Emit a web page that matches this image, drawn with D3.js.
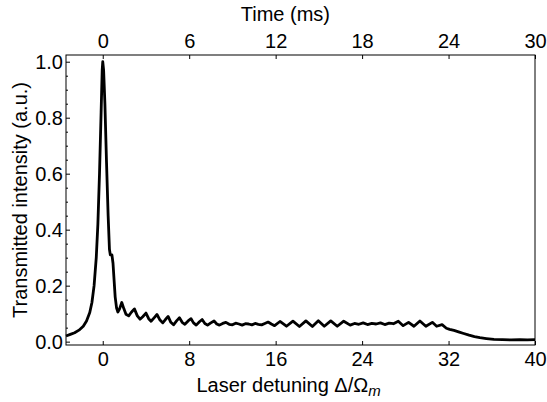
<!DOCTYPE html>
<html>
<head>
<meta charset="utf-8">
<script src="https://cdn.jsdelivr.net/npm/d3@7"></script>
<style>
  body { margin: 0; background: #fff; }
  svg text { font-family: "Liberation Sans", Arial, sans-serif; fill: #000; }
</style>
</head>
<body>
<svg id="chart"></svg>
<script>
// detuning (units of Omega_m) and transmitted intensity
const detuning = [
  -3.4, -3.0, -2.6, -2.2, -1.8, -1.5, -1.2, -1.0, -0.8, -0.6, -0.45, -0.3, -0.15, -0.05, 0.0,
  0.08, 0.2, 0.35, 0.5, 0.62, 0.7, 0.85, 0.95, 1.05, 1.15, 1.28, 1.4, 1.55, 1.76, 1.95,
  2.15, 2.4, 2.65, 2.93, 3.2, 3.45, 3.7, 4.0, 4.25, 4.47, 4.75, 5.02, 5.3, 5.55, 5.8,
  6.05, 6.3, 6.55, 6.85, 7.1, 7.35, 7.6, 7.9, 8.17, 8.4, 8.65, 8.95, 9.2, 9.45, 9.7,
  10.0, 10.3, 10.55, 10.8, 11.1, 11.4, 11.7, 12.0, 12.3, 12.6, 12.9, 13.2, 13.5, 13.8, 14.1,
  14.4, 14.7, 15.0, 15.3, 15.6, 15.9, 16.4, 17.0, 17.6, 18.2, 18.8, 19.4, 19.95, 20.5, 21.1,
  21.7, 22.3, 22.9, 23.3, 23.7, 24.1, 24.5, 24.9, 25.3, 25.7, 26.1, 26.5, 26.9, 27.35, 27.8,
  28.3, 28.8, 29.35, 29.9, 30.5, 30.9, 31.4, 31.8, 32.1, 32.5, 33.0, 33.4, 33.9, 34.4, 34.9,
  35.5, 36.2, 37.0, 37.8, 38.6, 39.3, 40.0
];
const intensity = [
  0.02, 0.026, 0.032, 0.041, 0.055, 0.074, 0.104, 0.14, 0.2, 0.3, 0.42, 0.6, 0.82, 0.97, 1.0,
  0.97, 0.85, 0.64, 0.45, 0.33, 0.31, 0.31, 0.28, 0.22, 0.16, 0.12, 0.106, 0.116, 0.14, 0.118,
  0.098, 0.092, 0.105, 0.117, 0.092, 0.08, 0.089, 0.102, 0.082, 0.073, 0.085, 0.097, 0.077, 0.067, 0.079,
  0.09, 0.069, 0.06, 0.075, 0.085, 0.069, 0.062, 0.074, 0.082, 0.067, 0.059, 0.071, 0.079, 0.065, 0.059,
  0.067, 0.074, 0.063, 0.059, 0.065, 0.069, 0.062, 0.06, 0.066, 0.063, 0.059, 0.064, 0.063, 0.06, 0.065,
  0.062, 0.06, 0.065, 0.07, 0.063, 0.057, 0.072, 0.055, 0.073, 0.054, 0.074, 0.054, 0.075, 0.055, 0.074,
  0.055, 0.073, 0.059, 0.065, 0.062, 0.067, 0.061, 0.065, 0.063, 0.067, 0.061, 0.066, 0.064, 0.073, 0.057,
  0.069, 0.055, 0.074, 0.055, 0.069, 0.055, 0.061, 0.048, 0.044, 0.04, 0.034, 0.029, 0.023, 0.018, 0.014,
  0.011, 0.008, 0.007, 0.006, 0.007, 0.006, 0.007
];

const bottomTicks = [0, 8, 16, 24, 32, 40];
const topTicks = [0, 6, 12, 18, 24, 30];
const leftTicks = [0.0, 0.2, 0.4, 0.6, 0.8, 1.0];

const width = 547, height = 402;
const margin = { top: 55, right: 12, bottom: 57, left: 66 };
const w = width - margin.left - margin.right;
const h = height - margin.top - margin.bottom;

const svg = d3.select('#chart').attr('width', width).attr('height', height);
const g = svg.append('g').attr('transform', `translate(${margin.left},${margin.top})`);

const x = d3.scaleLinear().domain([-3.4, 40]).range([0, w]);
// 6 ms of sweep corresponds to 8 Omega_m
const xTop = d3.scaleLinear().domain([-3.4 * 0.75, 30]).range([0, w]);
const y = d3.scaleLinear().domain([-0.012, 1.024]).range([h, 0]);

const data = detuning.map((d, i) => ({ x: d, y: intensity[i] }));

const line = d3.line().x(d => x(d.x)).y(d => y(d.y));

g.append('path')
  .datum(data)
  .attr('fill', 'none')
  .attr('stroke', '#000')
  .attr('stroke-width', 2.8)
  .attr('stroke-linejoin', 'round')
  .attr('d', line);

// axes: ticks point into the frame
const fontSize = 20;
g.append('g').attr('transform', `translate(0,${h})`)
  .call(d3.axisBottom(x).tickValues(bottomTicks).tickFormat(d3.format('d')).tickSizeInner(-4).tickSizeOuter(0).tickPadding(7));
g.append('g')
  .call(d3.axisTop(xTop).tickValues(topTicks).tickFormat(d3.format('d')).tickSizeInner(-4).tickSizeOuter(0).tickPadding(7));
g.append('g')
  .call(d3.axisLeft(y).tickValues(leftTicks).tickFormat(d3.format('.1f')).tickSizeInner(-4).tickSizeOuter(0).tickPadding(3));
g.append('g')
  .call(d3.axisLeft(y).tickValues(d3.range(0.05, 1.0, 0.05).filter(v => Math.abs(v * 5 - Math.round(v * 5)) > 1e-6))
    .tickFormat('').tickSizeInner(-2).tickSizeOuter(0));

g.selectAll('.domain').remove();
g.selectAll('.tick line').attr('stroke', '#000').attr('stroke-width', 1);
g.selectAll('.tick text').attr('font-size', fontSize).attr('font-family', '"Liberation Sans", Arial, sans-serif');

g.append('rect')
  .attr('x', 0).attr('y', 0).attr('width', w).attr('height', h)
  .attr('fill', 'none').attr('stroke', '#000').attr('stroke-width', 1);

// axis titles
svg.append('text')
  .attr('x', margin.left + x(16.9)).attr('y', 21)
  .attr('text-anchor', 'middle').attr('font-size', fontSize)
  .text('Time (ms)');

const xl = svg.append('text')
  .attr('x', margin.left + x(17.2)).attr('y', 392)
  .attr('text-anchor', 'middle').attr('font-size', fontSize);
xl.append('tspan').text('Laser detuning Δ/Ω');
xl.append('tspan').attr('font-size', 15).attr('font-style', 'italic').attr('dy', 4).text('m');

svg.append('text')
  .attr('transform', `translate(27,${margin.top + h / 2}) rotate(-90)`)
  .attr('text-anchor', 'middle').attr('font-size', fontSize)
  .text('Transmitted intensity (a.u.)');
</script>
</body>
</html>
